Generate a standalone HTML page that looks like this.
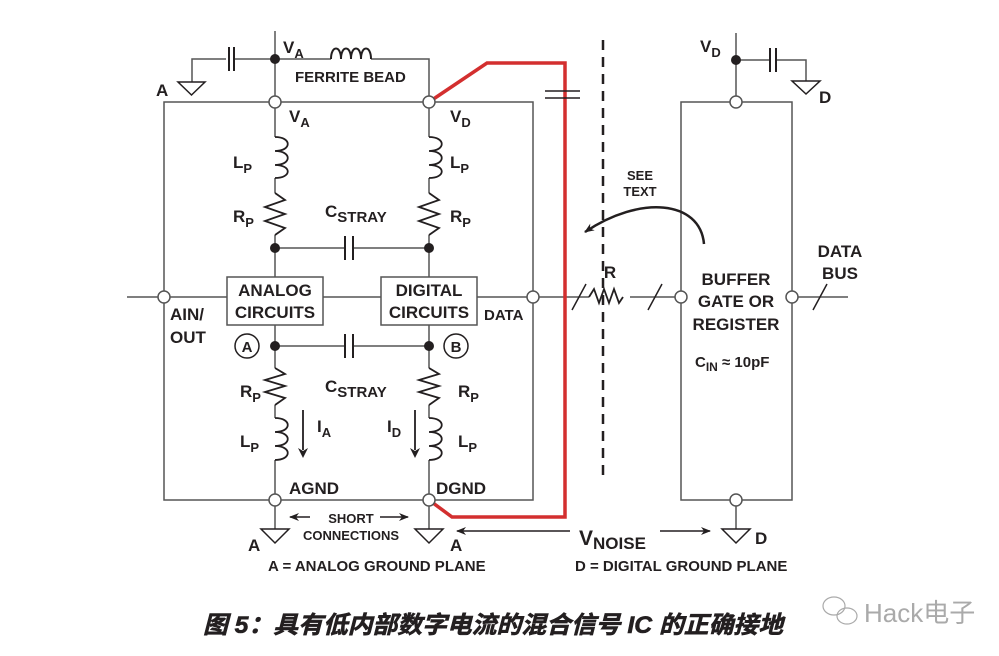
<!DOCTYPE html>
<html><head><meta charset="utf-8"><style>
html,body{margin:0;padding:0;background:#fff}
svg{display:block}
text{font-family:"Liberation Sans",Arial,sans-serif;font-weight:bold;fill:#231f20}
</style></head><body>
<svg width="999" height="656" viewBox="0 0 999 656" xmlns="http://www.w3.org/2000/svg">
<defs>
<marker id="ah" markerWidth="10" markerHeight="8" refX="9" refY="4" orient="auto" markerUnits="userSpaceOnUse"><path d="M0,0 L10,4 L0,8 L3,4 Z" fill="#231f20"/></marker>
</defs>
<g stroke="#555" stroke-width="1.5" fill="none">
<rect x="164" y="102" width="369" height="398"/>
<line x1="275" y1="31" x2="275" y2="102"/>
<path d="M275,59 H331 M371,59 H429 V102"/>
<path d="M331,59 c0,-14 10,-14 10,0 c0,-14 10,-14 10,0 c0,-14 10,-14 10,0 c0,-14 10,-14 10,0" stroke="#231f20" stroke-width="2"/>
<path d="M275,59 H234 M226,59 H192 V82"/>
<path d="M229,47 V71 M234,47 V71" stroke="#231f20" stroke-width="2"/>
<path d="M178,82 H205 L191.5,95 Z" stroke="#231f20"/>
<path d="M275,102 V137 M275,178 V193 M275,235 V277 M429,102 V137 M429,178 V193 M429,235 V277"/>
<path d="M275,325 V368 M275,405 V418 M275,460 V500 M429,325 V368 M429,405 V418 M429,460 V500"/>
<path d="M275,500 V529 M429,500 V529"/>
<g stroke="#231f20" stroke-width="1.8">
<path d="M275,137 c17,0 17,14 0,14 c17,0 17,14 0,14 c17,0 17,13 0,13"/>
<path d="M429,137 c17,0 17,14 0,14 c17,0 17,14 0,14 c17,0 17,13 0,13"/>
<path d="M275,418 c17,0 17,14 0,14 c17,0 17,14 0,14 c17,0 17,14 0,14"/>
<path d="M429,418 c17,0 17,14 0,14 c17,0 17,14 0,14 c17,0 17,14 0,14"/>
<path d="M275,193 L285,200 L265,207 L285,214 L265,221 L285,228 L275,235"/>
<path d="M429,193 L439,200 L419,207 L439,214 L419,221 L439,228 L429,235"/>
<path d="M275,368 L285,374 L265,380 L285,386 L265,392 L285,398 L275,405"/>
<path d="M429,368 L439,374 L419,380 L439,386 L419,392 L439,398 L429,405"/>
</g>
<path d="M275,248 H345 M353,248 H429 M275,346 H345 M353,346 H429"/>
<path d="M345,236 V260 M353,236 V260 M345,334 V358 M353,334 V358" stroke="#231f20" stroke-width="2"/>
<rect x="227" y="277" width="96" height="48"/>
<rect x="381" y="277" width="96" height="48"/>
<path d="M127,297 H227 M323,297 H381 M477,297 H589 M630,297 H681 M792,297 H848"/>
<path d="M589,297 l5,-8 l5,14 l5,-14 l5,14 l5,-14 l5,14 l4,-6" stroke="#231f20" stroke-width="1.8"/>
<path d="M572,310 L586,284 M648,310 L662,284 M813,310 L827,284" stroke="#231f20"/>
<rect x="681" y="102" width="111" height="398"/>
<path d="M736,33 V102 M736,60 H769 M777,60 H806 V81 M736,500 V529"/>
<path d="M770,48 V72 M776,48 V72" stroke="#231f20" stroke-width="2"/>
<path d="M792,81 H820 L806,94 Z" stroke="#231f20"/>
<path d="M261,529 H289 L275,543 Z M415,529 H443 L429,543 Z M722,529 H750 L736,543 Z" stroke="#231f20"/>
<line x1="603" y1="40" x2="603" y2="480" stroke="#231f20" stroke-width="2.5" stroke-dasharray="10,7"/>
<path d="M429,102 L487,63 H565 V517 H452 L429,500" stroke="#d32f2f" stroke-width="3.5"/>
<path d="M545,91 H580 M545,98 H580" stroke="#231f20"/>
<path d="M704,244 C700,200 640,195 585,232" stroke="#231f20" stroke-width="2.5" marker-end="url(#ah)"/>
<path d="M310,517 H290" stroke="#231f20" marker-end="url(#ah)"/>
<path d="M380,517 H408" stroke="#231f20" marker-end="url(#ah)"/>
<path d="M570,531 H457" stroke="#231f20" marker-end="url(#ah)"/>
<path d="M660,531 H710" stroke="#231f20" marker-end="url(#ah)"/>
<path d="M303,410 V450 M415,410 V450" stroke="#231f20" stroke-width="1.8"/>
</g>
<g fill="#231f20">
<path d="M298,448 L303,458 L308,448 L303,451 Z M410,448 L415,458 L420,448 L415,451 Z"/>
<circle cx="275" cy="59" r="5"/><circle cx="275" cy="248" r="5"/><circle cx="429" cy="248" r="5"/>
<circle cx="275" cy="346" r="5"/><circle cx="429" cy="346" r="5"/><circle cx="736" cy="60" r="5"/>
</g>
<g fill="#fff" stroke="#555" stroke-width="1.5">
<circle cx="275" cy="102" r="6"/><circle cx="429" cy="102" r="6"/>
<circle cx="164" cy="297" r="6"/><circle cx="533" cy="297" r="6"/>
<circle cx="275" cy="500" r="6"/><circle cx="429" cy="500" r="6"/>
<circle cx="736" cy="102" r="6"/><circle cx="736" cy="500" r="6"/>
<circle cx="681" cy="297" r="6"/><circle cx="792" cy="297" r="6"/>
<circle cx="247" cy="346" r="12" stroke="#231f20"/><circle cx="456" cy="346" r="12" stroke="#231f20"/>
</g>
<g font-size="17">
<text x="283" y="53">V<tspan font-size="13" dy="5">A</tspan></text>
<text x="289" y="122">V<tspan font-size="13" dy="5">A</tspan></text>
<text x="450" y="122">V<tspan font-size="13" dy="5">D</tspan></text>
<text x="700" y="52">V<tspan font-size="13" dy="5">D</tspan></text>
<text x="156" y="96">A</text>
<text x="819" y="103">D</text>
<text x="295" y="82" font-size="15">FERRITE BEAD</text>
<text x="233" y="168">L<tspan font-size="13" dy="5">P</tspan></text>
<text x="450" y="168">L<tspan font-size="13" dy="5">P</tspan></text>
<text x="233" y="222">R<tspan font-size="13" dy="5">P</tspan></text>
<text x="450" y="222">R<tspan font-size="13" dy="5">P</tspan></text>
<text x="325" y="217">C<tspan font-size="15" dy="5">STRAY</tspan></text>
<text x="325" y="392">C<tspan font-size="15" dy="5">STRAY</tspan></text>
<text x="240" y="397">R<tspan font-size="13" dy="5">P</tspan></text>
<text x="458" y="397">R<tspan font-size="13" dy="5">P</tspan></text>
<text x="240" y="447">L<tspan font-size="13" dy="5">P</tspan></text>
<text x="458" y="447">L<tspan font-size="13" dy="5">P</tspan></text>
<text x="317" y="432">I<tspan font-size="13" dy="5">A</tspan></text>
<text x="387" y="432">I<tspan font-size="13" dy="5">D</tspan></text>
<text x="275" y="296" text-anchor="middle">ANALOG</text>
<text x="275" y="318" text-anchor="middle">CIRCUITS</text>
<text x="429" y="296" text-anchor="middle">DIGITAL</text>
<text x="429" y="318" text-anchor="middle">CIRCUITS</text>
<text x="170" y="320">AIN/</text>
<text x="170" y="343">OUT</text>
<text x="484" y="320" font-size="15">DATA</text>
<text x="247" y="352" text-anchor="middle" font-size="15">A</text>
<text x="456" y="352" text-anchor="middle" font-size="15">B</text>
<text x="289" y="494">AGND</text>
<text x="436" y="494">DGND</text>
<text x="351" y="523" text-anchor="middle" font-size="13">SHORT</text>
<text x="351" y="540" text-anchor="middle" font-size="13">CONNECTIONS</text>
<text x="248" y="551">A</text>
<text x="450" y="551">A</text>
<text x="755" y="544">D</text>
<text x="579" y="545" font-size="21">V<tspan font-size="17" dy="4">NOISE</tspan></text>
<text x="268" y="571" font-size="15">A = ANALOG GROUND PLANE</text>
<text x="575" y="571" font-size="15">D = DIGITAL GROUND PLANE</text>
<text x="640" y="180" text-anchor="middle" font-size="13">SEE</text>
<text x="640" y="196" text-anchor="middle" font-size="13">TEXT</text>
<text x="610" y="278" text-anchor="middle">R</text>
<text x="736" y="285" text-anchor="middle">BUFFER</text>
<text x="736" y="307" text-anchor="middle">GATE OR</text>
<text x="736" y="330" text-anchor="middle">REGISTER</text>
<text x="840" y="257" text-anchor="middle">DATA</text>
<text x="840" y="279" text-anchor="middle">BUS</text>
<text x="695" y="367" font-size="15">C<tspan font-size="12" dy="4">IN</tspan><tspan dy="-4"> ≈ 10pF</tspan></text>
</g>
<text x="203" y="633" font-size="24" font-style="italic" textLength="580" lengthAdjust="spacingAndGlyphs" style="font-family:'Liberation Sans','Noto Sans CJK SC',sans-serif;stroke:#231f20;stroke-width:0.6">图 5：具有低内部数字电流的混合信号 IC 的正确接地</text>
<text x="864" y="622" font-size="26" style="fill:#aaa;font-weight:normal;font-family:'Liberation Sans','Noto Sans CJK SC',sans-serif">Hack电子</text>
<g fill="none" stroke="#aaa" stroke-width="1.2"><ellipse cx="834" cy="606" rx="11" ry="9"/><ellipse cx="847" cy="616" rx="10" ry="8"/></g>
</svg>
</body></html>
